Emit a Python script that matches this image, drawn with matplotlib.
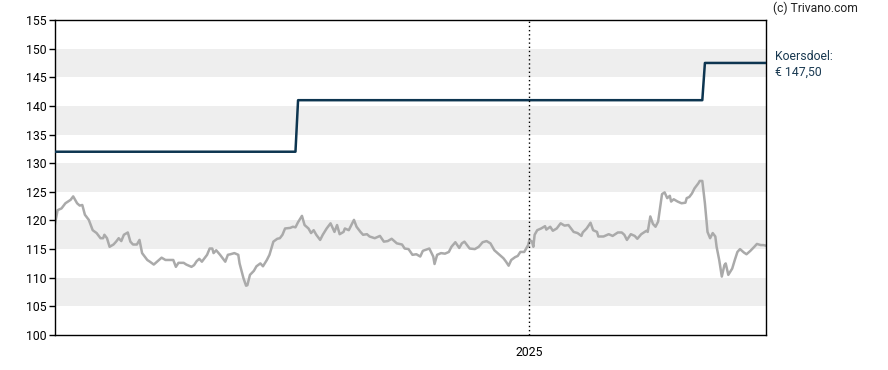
import matplotlib
matplotlib.use("Agg")
import matplotlib.pyplot as plt

plt.rcParams['font.family'] = ['Roboto', 'DejaVu Sans']

# dagen sinds 2024-01-01 en slotkoers
days = [0, 2, 5, 8, 12, 14, 17, 19, 21, 23, 26, 29, 32, 35, 37, 38, 40, 42, 45, 47,
        49, 51, 53, 56, 58, 60, 63, 65, 67, 71, 73, 76, 79, 82, 85, 91, 93, 95, 99, 101,
        105, 107, 109, 111, 113, 117, 119, 121, 122, 124, 127, 131, 133, 135, 138, 141, 142, 145, 147, 148,
        150, 153, 155, 158, 160, 163, 165, 168, 171, 173, 175, 177, 181, 183, 185, 187, 190, 192, 195, 197,
        199, 201, 204, 206, 209, 212, 215, 217, 219, 222, 223, 226, 230, 232, 235, 237, 240, 242, 246, 250,
        253, 256, 259, 263, 267, 269, 272, 275, 278, 281, 283, 288, 291, 292, 294, 297, 300, 303, 305, 308,
        311, 313, 315, 319, 323, 326, 329, 332, 335, 338, 342, 345, 347, 349, 351, 354, 356, 358, 361, 364,
        365, 367, 368, 369, 371, 374, 377, 378, 381, 383, 386, 389, 392, 395, 399, 402, 405, 406, 409, 412,
        414, 417, 418, 422, 426, 429, 433, 436, 438, 440, 443, 446, 448, 451, 455, 456, 458, 460, 462, 464,
        467, 469, 471, 473, 474, 476, 479, 482, 485, 486, 488, 490, 492, 495, 496, 498, 500, 502, 504, 506,
        508, 509, 511, 513, 515, 516, 518, 521, 523, 525, 527, 530, 532, 535, 538, 540, 543, 545, 547]
koers = [119.4, 121.8, 122.1, 123.0, 123.6, 124.2, 123.0, 122.6, 122.7, 121.0, 120.1, 118.3, 117.8, 116.9, 116.9, 117.5, 116.9, 115.4, 115.8, 116.3,
         116.9, 116.4, 117.5, 117.9, 116.3, 115.8, 115.8, 116.6, 114.3, 113.1, 112.8, 112.3, 112.9, 113.5, 113.1, 113.1, 111.9, 112.6, 112.6, 112.3,
         111.9, 112.2, 112.9, 113.3, 112.8, 114.0, 115.1, 115.1, 114.3, 114.8, 114.0, 112.8, 114.0, 114.1, 114.3, 114.0, 112.5, 109.9, 108.6, 108.7,
         110.5, 111.2, 112.0, 112.5, 112.0, 113.1, 114.0, 116.3, 116.8, 116.9, 117.5, 118.6, 118.7, 118.9, 118.8, 119.7, 120.8, 119.2, 118.6, 117.8,
         118.3, 117.5, 116.6, 117.5, 118.6, 119.5, 118.0, 119.2, 117.6, 118.0, 118.6, 118.3, 120.1, 118.9, 118.0, 117.5, 117.6, 117.2, 116.9, 117.3,
         116.3, 116.4, 116.8, 116.0, 115.8, 115.1, 115.0, 114.0, 114.1, 113.7, 114.7, 115.1, 113.7, 112.4, 114.0, 114.3, 114.2, 114.5, 115.4, 116.2,
         115.2, 116.0, 116.3, 115.1, 115.0, 115.4, 116.2, 116.4, 116.0, 114.8, 114.0, 113.4, 112.8, 112.1, 113.1, 113.6, 113.8, 114.5, 114.5, 115.7,
         116.6, 116.3, 115.4, 117.5, 118.3, 118.6, 119.0, 118.4, 118.9, 118.2, 118.6, 119.5, 119.1, 119.2, 118.0, 117.8, 117.3, 117.9, 118.6, 119.6,
         118.3, 118.0, 117.2, 117.2, 117.6, 117.3, 117.9, 117.9, 117.5, 116.6, 117.6, 117.3, 116.8, 117.6, 118.2, 118.0, 120.7, 119.4, 118.9, 119.8,
         124.6, 124.9, 123.9, 124.3, 123.3, 123.7, 123.3, 123.0, 123.1, 123.9, 124.1, 124.7, 125.6, 126.5, 126.9, 126.9, 123.0, 118.0, 116.9, 117.8,
         117.2, 115.4, 113.1, 110.2, 112.2, 112.5, 110.5, 111.6, 113.1, 114.5, 115.0, 114.4, 114.1, 114.7, 115.4, 115.9, 115.7, 115.7, 115.6]

# koersdoel
doel_days = [0, 185, 187, 498, 500, 547]
doel = [132.0, 132.0, 141.0, 141.0, 147.5, 147.5]

y_ticks = list(range(100, 156, 5))
jaar_dag = 365
jaar_label = '2025'

fig = plt.figure(figsize=(8.88, 3.70), dpi=100)
ax = fig.add_axes([55 / 888, 35 / 370, 711 / 888, 315 / 370])

for lo in range(105, 155, 10):
    ax.axhspan(lo, lo + 5, color='#eeeeee', lw=0, zorder=0)

ax.plot(days, koers, color='#aaaaaa', lw=1.8, zorder=2)
ax.plot(doel_days, doel, color='#0d3550', lw=1.8, zorder=3)
ax.axvline(jaar_dag, color='black', lw=1, ls=(0, (1, 2)), zorder=4)

ax.set_xlim(0, 547)
ax.set_ylim(100, 155)
ax.set_yticks(y_ticks)
ax.set_xticks([jaar_dag])
ax.set_xticklabels([jaar_label])
ax.tick_params(axis='y', length=4, width=1, labelsize=8.8, pad=2)
ax.tick_params(axis='x', length=0, labelsize=8.8, pad=8)
for s in ax.spines.values():
    s.set_linewidth(1)
    s.set_color('black')

fig.text(773 / 888, 1 - 8 / 370, '(c) Trivano.com', fontsize=8.7, va='center', ha='left', color='#222222')
fig.text(775 / 888, 1 - 56 / 370, 'Koersdoel:', fontsize=8.8, va='center', ha='left', color='#1a3a52')
fig.text(775 / 888, 1 - 72 / 370, '€ 147,50', fontsize=8.8, va='center', ha='left', color='#1a3a52')

fig.savefig('out.png', dpi=100)
